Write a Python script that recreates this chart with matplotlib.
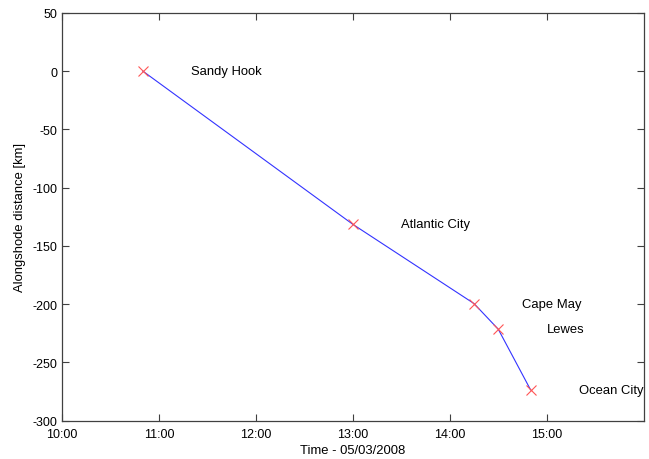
import datetime as dt
import matplotlib
matplotlib.use("Agg")
import matplotlib.pyplot as plt
import matplotlib.dates as mdates

plt.rcParams['font.family'] = ['Liberation Sans', 'DejaVu Sans']
plt.rcParams['font.size'] = 9
plt.rcParams['axes.unicode_minus'] = False

# ferry passage times and alongshore distance from Sandy Hook
stations = ["Sandy Hook", "Atlantic City", "Cape May", "Lewes", "Ocean City"]
times = ["10:50", "13:00", "14:15", "14:30", "14:50"]
distance = [0, -131.5, -199.5, -221.5, -273.5]

day = dt.datetime(2008, 5, 3)
t = [dt.datetime.strptime("2008-05-03 " + s, "%Y-%m-%d %H:%M") for s in times]

fig = plt.figure(figsize=(6.49, 4.60), dpi=100)
ax = fig.add_axes([0.0955, 0.0833, 0.8963, 0.8867])

ax.plot(t, distance, color='#3333ff', lw=0.8)
ax.plot(t, distance, 'x', color='#ff5555', ms=7, mew=0.8, ls='none')

for name, ti, d in zip(stations, t, distance):
    ax.text(ti + dt.timedelta(minutes=30), d, name, va='center', ha='left',
            fontsize=9.4)

ax.set_xlim(day + dt.timedelta(hours=10), day + dt.timedelta(hours=16))
ax.set_ylim(-300, 50)
ax.set_xticks([day + dt.timedelta(hours=h) for h in range(10, 16)])
ax.xaxis.set_major_formatter(mdates.DateFormatter('%H:%M'))
ax.set_yticks(range(-300, 51, 50))

ax.tick_params(direction='in', length=5, top=True, right=True, width=0.8,
               color='#404040')
ax.tick_params(axis='x', pad=5)
ax.tick_params(axis='y', pad=3)
for sp in ax.spines.values():
    sp.set_color('#404040')
    sp.set_linewidth(0.9)

ax.set_xlabel("Time - 05/03/2008", labelpad=3, fontsize=9.4)
ax.set_ylabel("Alongshode distance [km]", labelpad=5, fontsize=9.4)

fig.savefig("out.png", dpi=100)
